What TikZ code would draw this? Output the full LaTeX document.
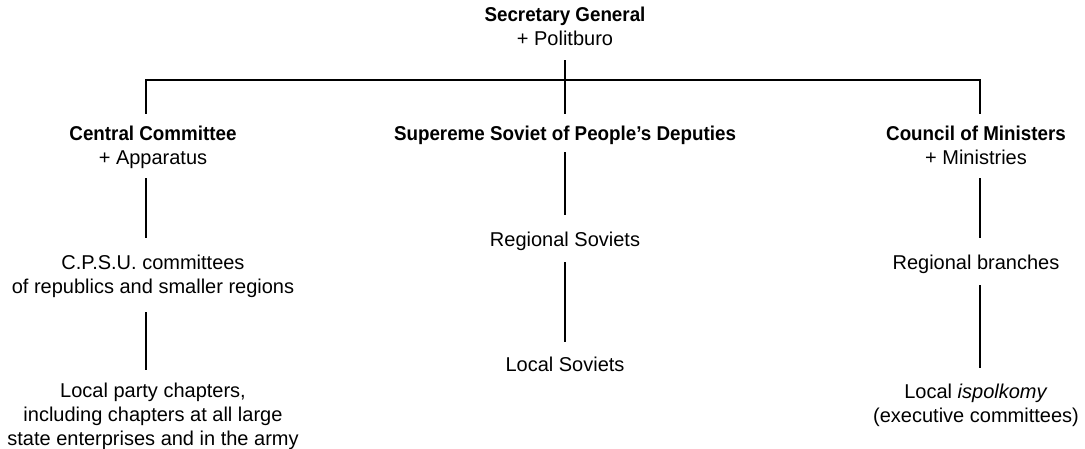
\documentclass[tikz,border=0pt]{standalone}
\usepackage{fontspec}
\usepackage{graphicx}
\setmainfont{Liberation Sans}
\newcommand{\bt}[1]{\scalebox{0.94}[1]{\bfseries #1}}
\begin{document}
\begin{tikzpicture}[x=1pt,y=-1pt,
  lbl/.style={anchor=north,align=center,inner sep=0pt,outer sep=0pt,
    font=\fontsize{20}{24}\selectfont},
  conn/.style={line width=2.4pt}]
\useasboundingbox (0,0) rectangle (1085,449);
% nodes
\node[lbl] (sg) at (565,7.5) {\bt{Secretary General}\\+ Politburo};
\node[lbl] (cc) at (153,126.5) {\bt{Central Committee}\\+ Apparatus};
\node[lbl] (ss) at (565,126.5) {\bt{Supereme Soviet of People’s Deputies}};
\node[lbl] (cm) at (976,126.5) {\bt{Council of Ministers}\\+ Ministries};
\node[lbl] (cpsu) at (153,255.5) {C.P.S.U. committees\\of republics and smaller regions};
\node[lbl] (lpc) at (153,383.5) {Local party chapters,\\including chapters at all large\\state enterprises and in the army};
\node[lbl] (rs) at (565,232.5) {Regional Soviets};
\node[lbl] (ls) at (565,357.5) {Local Soviets};
\node[lbl] (rb) at (976,255.5) {Regional branches};
\node[lbl] (li) at (976,384.5) {Local \textit{ispolkomy}\\(executive committees)};
\coordinate (bar) at (565,80);
% connectors
\draw[conn] ([yshift=-14pt]sg.south) -- ([yshift=12.5pt]ss.north);
\draw[conn] ([xshift=-7pt,yshift=12.5pt]cc.north) |- (bar) -| ([xshift=4pt,yshift=12.5pt]cm.north);
\draw[conn] ([xshift=-7pt,yshift=-9pt]cc.south) -- ([xshift=-7pt,yshift=17.5pt]cpsu.north);
\draw[conn] ([xshift=-7pt,yshift=-14pt]cpsu.south) -- ([xshift=-7pt,yshift=13.5pt]lpc.north);
\draw[conn] ([yshift=-7pt]ss.south) -- ([yshift=17.5pt]rs.north);
\draw[conn] ([yshift=-11pt]rs.south) -- ([yshift=15.5pt]ls.north);
\draw[conn] ([xshift=4pt,yshift=-13pt]cm.south) -- ([xshift=4pt,yshift=17.5pt]rb.north);
\draw[conn] ([xshift=4pt,yshift=-11pt]rb.south) -- ([xshift=4pt,yshift=16.5pt]li.north);
\end{tikzpicture}
\end{document}
